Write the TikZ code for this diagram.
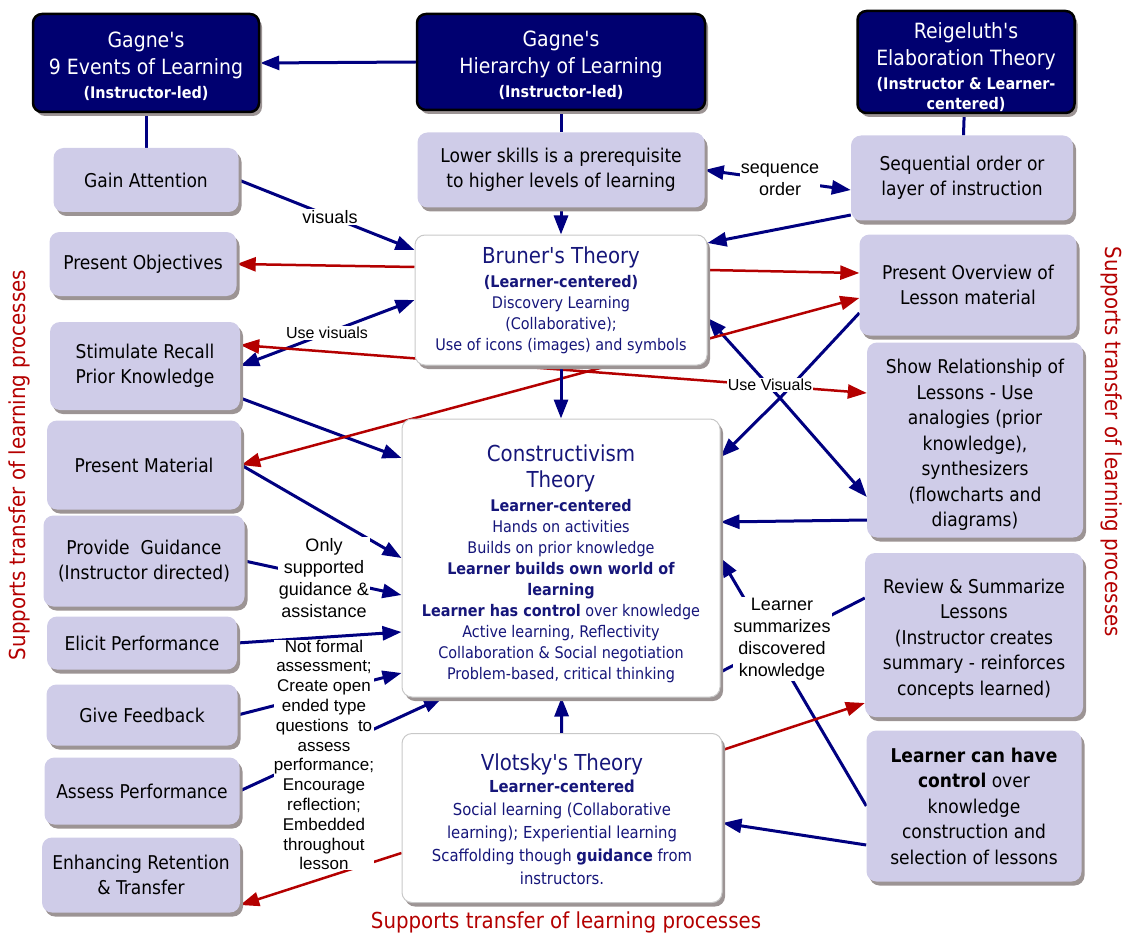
\documentclass[tikz,border=0pt]{standalone}
\usepackage{fontspec}
\setmainfont{DejaVu Sans Condensed}
\newfontfamily\lblfont{Liberation Sans}
\usepackage{tikz}
\usetikzlibrary{arrows.meta, positioning, shadows, backgrounds}
\definecolor{boxnavy}{HTML}{000070}
\definecolor{lilac}{HTML}{CFCCE8}
\definecolor{shade}{HTML}{9C9494}
\definecolor{rimgray}{HTML}{C8C8C8}
\definecolor{textnavy}{HTML}{16167A}
\definecolor{linkblue}{HTML}{000080}
\definecolor{linkred}{HTML}{B40000}
\newcommand{\ledfont}{\fontsize{16}{20}\selectfont\bfseries}
\newcommand{\titlefont}{\fontsize{22}{26}\selectfont}
\newcommand{\topgap}[1]{\rule{0pt}{#1}}
\newcommand{\q}{\textquotesingle}

\begin{document}
\begin{tikzpicture}[
  x=1pt, y=-1pt,
  boxshadow/.style={drop shadow={shadow xshift=3pt, shadow yshift=-4pt, fill=shade, opacity=1}},
  darkbox/.style={draw=black, line width=2.5pt, fill=boxnavy, text=white,
                  rounded corners=9pt, align=center, inner sep=0pt,
                  font=\fontsize{21}{27}\selectfont, boxshadow},
  event/.style={fill=lilac, rounded corners=10pt, align=center, inner sep=0pt,
                font=\fontsize{19}{25.5}\selectfont, boxshadow},
  theory/.style={draw=rimgray, line width=1pt, fill=white, text=textnavy,
                 rounded corners=10pt, align=center, inner sep=0pt,
                 font=\fontsize{16}{21}\selectfont, boxshadow},
  note/.style={fill=white, inner sep=1pt, align=center,
               font=\lblfont\fontsize{18}{22}\selectfont},
  arr/.style={-{Triangle[length=19pt, width=14pt]}, line width=3pt, color=linkblue},
  biarr/.style={{Triangle[length=19pt, width=14pt]}-{Triangle[length=19pt, width=14pt]},
                line width=3pt, color=linkblue},
  link/.style={line width=3pt, color=linkblue},
  redarr/.style={-{Triangle[length=19pt, width=14pt]}, line width=2.5pt, color=linkred},
  redbi/.style={{Triangle[length=19pt, width=14pt]}-{Triangle[length=19pt, width=14pt]},
                line width=2.5pt, color=linkred},
  transfer/.style={text=linkred, font=\fontsize{22}{26}\selectfont}
]
  \useasboundingbox (0,0) rectangle (1124,936);

  % theories on top
  \node[darkbox, minimum width=226, minimum height=98] (gagne9) at (146,63)
    {\topgap{23pt}Gagne\q s\\9 Events of Learning\\[-3pt]{\ledfont(Instructor-led)}};
  \node[darkbox, minimum width=288, minimum height=96] (gagneH) at (561,62)
    {\topgap{23pt}Gagne\q s\\Hierarchy of Learning\\[-3pt]{\ledfont(Instructor-led)}};
  \node[darkbox, minimum width=217, minimum height=102] (reig) at (966,62)
    {\topgap{26pt}Reigeluth\q s\\Elaboration Theory\\[-3pt]{\ledfont(Instructor \& Learner-}\\[-7pt]{\ledfont centered)}};

  % nine events
  \node[event, minimum width=185, minimum height=64] (gain) at (146,180) {Gain Attention};
  \node[event, minimum width=187, minimum height=64] (presobj) at (143,264) {Present Objectives};
  \node[event, minimum width=190, minimum height=88] (recall) at (145,366) {Stimulate Recall\\Prior Knowledge};
  \node[event, minimum width=194, minimum height=89] (presmat) at (144,465) {Present Material};
  \node[event, minimum width=201, minimum height=91] (guidance) at (144,561) {Provide~~Guidance\\(Instructor directed)};
  \node[event, minimum width=190, minimum height=53] (elicit) at (142,643) {Elicit Performance};
  \node[event, minimum width=191, minimum height=61] (feedback) at (142,715) {Give Feedback};
  \node[event, minimum width=195, minimum height=67] (assess) at (142,791) {Assess Performance};
  \node[event, minimum width=198, minimum height=75] (enhance) at (141,875) {Enhancing Retention\\\& Transfer};

  % centre column
  \node[event, minimum width=287, minimum height=75] (lower) at (561,170)
    {Lower skills is a prerequisite\\to higher levels of learning};
  \node[theory, minimum width=292, minimum height=130] (bruner) at (561,300)
    {{\titlefont Bruner\q s Theory}\\[3pt]
     \textbf{(Learner-centered)}\\
     Discovery Learning\\
     (Collaborative);\\
     Use of icons (images) and symbols};
  \node[theory, minimum width=318, minimum height=278] (constr) at (561,558)
    {\topgap{29pt}{\titlefont Constructivism}\\[5pt]
     {\titlefont Theory}\\[3pt]
     \textbf{Learner-centered}\\
     Hands on activities\\
     Builds on prior knowledge\\
     \textbf{Learner builds own world of}\\
     \textbf{learning}\\
     \textbf{Learner has control} over knowledge\\
     Active learning, Reflectivity\\
     Collaboration \& Social negotiation\\
     Problem-based, critical thinking};
  \node[theory, minimum width=320, minimum height=169, font=\fontsize{16.5}{23}\selectfont] (vlotsky) at (562,818)
    {\topgap{20pt}{\titlefont Vlotsky\q s Theory}\\[-1pt]
     \textbf{Learner-centered}\\
     Social learning (Collaborative\\
     learning); Experiential learning\\
     Scaffolding though \textbf{guidance} from\\
     instructors.};

  % right column
  \node[event, minimum width=222, minimum height=85] (seq) at (962,178)
    {Sequential order or\\layer of instruction};
  \node[event, minimum width=217, minimum height=101] (overview) at (968,285)
    {Present Overview of\\Lesson material};
  \node[event, minimum width=216, minimum height=195] (showrel) at (975,440)
    {\topgap{24pt}Show Relationship of\\Lessons - Use\\analogies (prior\\knowledge),\\synthesizers\\(flowcharts and\\diagrams)};
  \node[event, minimum width=218, minimum height=164] (review) at (974,635)
    {\topgap{22pt}Review \& Summarize\\Lessons\\(Instructor creates\\summary - reinforces\\concepts learned)};
  \node[event, minimum width=215, minimum height=151] (control) at (974,806)
    {\textbf{Learner can have}\\\textbf{control} over\\knowledge\\construction and\\selection of lessons};

  % link labels
  \node[note] (visuals) at (330,217) {visuals};
  \node[note] (seqorder) at (780,180) {sequence\\order};
  \node[note, font=\lblfont\fontsize{16}{20}\selectfont] (usevis) at (327,333) {Use visuals};
  \node[note, font=\lblfont\fontsize{16}{20}\selectfont] (useVis) at (770,385) {Use Visuals};
  \coordinate (hub) at (780,398);
  \node[note] (onlysup) at (324,578) {Only\\supported\\guidance \&\\assistance};
  \node[note, inner sep=0pt, font=\lblfont\fontsize{17}{19.8}\selectfont] (informal) at (324,755)
    {Not formal\\assessment;\\Create open\\ended type\\questions~~to\\assess\\performance;\\Encourage\\reflection;\\Embedded\\throughout\\lesson};
  \node[note] (summ) at (782,639) {Learner\\summarizes\\discovered\\knowledge};

  \node[transfer, rotate=90] (leftnote) at (19,465) {Supports transfer of learning processes};
  \node[transfer, rotate=-90] (rightnote) at (1112,442) {Supports transfer of learning processes};
  \node[transfer] (bottomnote) at (566,922) {Supports transfer of learning processes};

  \begin{scope}[on background layer]
    \draw[arr] (gagneH.west) -- (gagne9.east);
    \draw[link] (gagne9) -- (gain);
    \draw[link] (gagneH) -- (lower);
    \draw[link] (reig) -- (seq);
    \draw[arr] (lower) -- (bruner);
    \draw[biarr] (lower.east) -- ([yshift=-12pt]seq.west);
    \draw[arr] ([yshift=-37pt]seq.west) -- ([yshift=57pt]bruner.east);
    \draw[arr] (gain.east) -- ([yshift=50pt]bruner.west);
    \draw[redarr] ([yshift=33pt]bruner.west) -- (presobj.east);
    \draw[redarr] ([yshift=30pt]bruner.east) -- ([yshift=12pt]overview.west);
    \draw[biarr] (recall.east) -- (bruner.west);
    \draw[redbi] ([yshift=21pt]recall.east) -- ([yshift=47pt]showrel.west);
    \draw[link] ([yshift=-28pt]overview.west) -- (hub);
    \draw[arr] (hub) -- ([yshift=-18pt]bruner.east);
    \draw[arr] (hub) -- ([yshift=101pt]constr.east);
    \draw[arr] (hub) -- ([yshift=-57pt]showrel.west);
    \draw[arr] ([yshift=-32pt]recall.east) -- ([yshift=100pt]constr.west);
    \draw[redbi] (presmat.east) -- ([yshift=-13pt]overview.west);
    \draw[arr] (presmat.east) -- (constr.west);
    \draw[arr] (guidance.east) -- ([yshift=-37pt]constr.west);
    \draw[arr] (elicit.east) -- ([yshift=-74pt]constr.west);
    \draw[arr] (feedback.east) -- ([yshift=-115pt]constr.west);
    \draw[arr] (assess.east) -- ([xshift=41pt]constr.south west);
    \draw[arr] (bruner) -- (constr);
    \draw[arr] ([yshift=-80pt]showrel.west) -- ([yshift=36pt]constr.east);
    \draw[link] ([yshift=37pt]review.west) -- ([yshift=-114pt]constr.east);
    \draw[arr] (control.west) -- (constr.east);
    \draw[arr] ([yshift=-39pt]control.west) -- ([yshift=-5pt]vlotsky.east);
    \draw[arr] (vlotsky) -- (constr);
    \draw[redarr] ([yshift=68pt]vlotsky.east) -- ([yshift=-68pt]review.west);
    \draw[redarr] ([yshift=-35pt]vlotsky.west) -- ([yshift=-30pt]enhance.east);
  \end{scope}
\end{tikzpicture}
\end{document}
